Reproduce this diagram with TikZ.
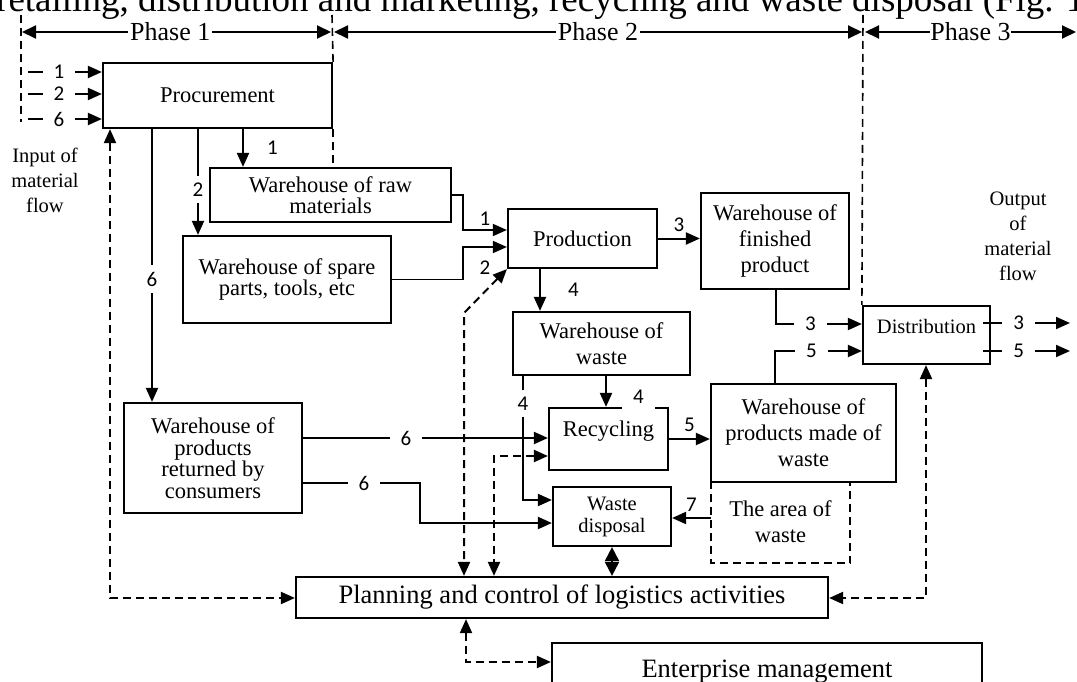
\documentclass[tikz,border=0pt]{standalone}
\usepackage{fontspec}
\setmainfont{Liberation Serif}
\newfontfamily\numfont{Carlito}
\usetikzlibrary{arrows.meta}
\usetikzlibrary{positioning}

\tikzset{
  box/.style={draw, line width=2.2pt, align=center, inner sep=0pt,
    font=\fontsize{22.5}{26}\selectfont},
  tightbox/.style={box, font=\fontsize{22.5}{21.5}\selectfont},
  smallbox/.style={box, font=\fontsize{20.5}{22}\selectfont},
  bigbox/.style={box, font=\fontsize{26.5}{30}\selectfont},
  flow/.style={-{Triangle[length=14pt,width=12pt]}, line width=2pt},
  thinflow/.style={flow, line width=1.6pt},
  ctrl/.style={{Triangle[length=14pt,width=12pt]}-{Triangle[length=14pt,width=12pt]},
    line width=2pt, dash pattern=on 8pt off 5pt},
  diam/.style={{Triangle[length=14pt,width=14pt]}-{Triangle[length=14pt,width=14pt]},
    line width=2pt},
  phasearrow/.style={{Triangle[length=14pt,width=13pt]}-{Triangle[length=14pt,width=13pt]},
    line width=2pt},
  border/.style={line width=1.6pt, dash pattern=on 8pt off 5pt},
  num/.style={font=\numfont\fontsize{21}{21}\selectfont, fill=white,
    inner xsep=11pt, inner ysep=7pt},
  numside/.style={font=\numfont\fontsize{21}{21}\selectfont, inner sep=1pt},
  phase/.style={font=\fontsize{26}{26}\selectfont, fill=white, inner sep=2pt},
  note/.style={align=center, font=\fontsize{20.5}{25}\selectfont},
}

\begin{document}
\begin{tikzpicture}[x=1pt, y=-1pt]
  \clip (0,0) rectangle (1077,682);

  \node[anchor=base west, inner sep=0pt, font=\fontsize{37}{37}\selectfont] (Caption)
    at (-4,12) {retailing, distribution and marketing, recycling and waste disposal (Fig. 1};

  % boxes
  \node[box, minimum width=229pt, minimum height=65pt] (Procurement) at (217.5,95.5) {Procurement};
  \node[tightbox, minimum width=241pt, minimum height=54pt] (RawStore) at (330.5,195) {Warehouse of raw\\materials};
  \node[tightbox, minimum width=208pt, minimum height=87pt] (SpareStore) at (287,279.5) {Warehouse of spare\\parts, tools, etc};
  \node[tightbox, minimum width=178pt, minimum height=110pt] (ReturnStore) at (213,458) {Warehouse of\\products\\returned by\\consumers};
  \node[box, minimum width=149pt, minimum height=59pt] (Production) at (582.5,238.5) {Production};
  \node[box, minimum width=148pt, minimum height=96pt] (FinishedStore) at (775,241) {Warehouse of\\finished\\product};
  \node[box, minimum width=177pt, minimum height=63pt] (WasteStore) at (601.5,343.5) {Warehouse of\\waste};
  \node[box, text depth=21pt, minimum width=119pt, minimum height=62pt] (Recycling) at (608.5,439) {Recycling};
  \node[smallbox, minimum width=118pt, minimum height=59pt] (Disposal) at (612,516.5) {Waste\\disposal};
  \node[box, minimum width=185pt, minimum height=98pt] (MadeStore) at (803.5,433) {Warehouse of\\products made of\\waste};
  \node[box, draw=none, minimum width=137pt, minimum height=80pt] (WasteArea) at (780.5,522) {The area of\\waste};
  \node[smallbox, text depth=18pt, minimum width=127pt, minimum height=58pt] (Distribution) at (926.5,335) {Distribution};
  \node[bigbox, minimum width=532pt, minimum height=41pt] (Planning) at (562,597.5) {Planning and control of logistics activities};
  \node[bigbox, minimum width=430pt, minimum height=57pt] (Management) at (767,671.5) {Enterprise management};
  \draw[border] (WasteArea.north west) -- (WasteArea.south west) -- (WasteArea.south east) -- (WasteArea.north east);

  \node[note] (InputText) at (45,180) {Input of\\material\\flow};
  \node[note] (OutputText) at (1018,236) {Output\\of\\material\\flow};

  % phases
  \coordinate (LineA) at (21,15);
  \coordinate (LineAEnd) at (21,122);
  \coordinate (LineB) at (332,15);
  \coordinate (LineC) at (863,15);
  \draw[border] (LineA) -- (LineAEnd);
  \draw[border] (LineB) -- (Procurement.north east);
  \draw[border] (Procurement.south east) -- (RawStore.north -| Procurement.east);
  \draw[border] (LineC) -- (Distribution.north west);

  \coordinate (PhaseA) at (22,32);
  \coordinate (PhaseB) at (331,32);
  \coordinate (PhaseC) at (334,32);
  \coordinate (PhaseD) at (862,32);
  \coordinate (PhaseE) at (865,32);
  \coordinate (PhaseF) at (1076,32);
  \draw[phasearrow] (PhaseA) -- node[phase, pos=0.48] {Phase 1} (PhaseB);
  \draw[phasearrow] (PhaseC) -- node[phase] {Phase 2} (PhaseD);
  \draw[phasearrow] (PhaseE) -- node[phase, inner sep=0pt] {Phase 3} (PhaseF);

  % input
  \foreach \n/\y in {1/72,2/94,6/119}{%
    \coordinate (In\n) at (28,\y);
    \draw[flow] (In\n) -- node[num, pos=0.42] {\n} (In\n -| Procurement.west);
  }

  % procurement feeds
  \coordinate (ColRaw) at (243,0);
  \coordinate (ColSpare) at (198,0);
  \coordinate (ColReturn) at (152,0);
  \draw[flow] (Procurement.south -| ColRaw) -- node[numside, right=22pt] {1} (RawStore.north -| ColRaw);
  \draw[flow] (Procurement.south -| ColSpare) -- node[num, inner xsep=5pt, pos=0.57] {2} (SpareStore.north -| ColSpare);
  \draw[flow] (Procurement.south -| ColReturn) -- node[num, pos=0.55] {6} (ReturnStore.north -| ColReturn);

  % production
  \coordinate (JoinRaw) at (463,230);
  \coordinate (JoinSpare) at (463,247);
  \draw[thinflow] (RawStore.east) -| (JoinRaw) -- node[numside, above=3pt] {1} (Production.west |- JoinRaw);
  \draw[thinflow] (SpareStore.east) -| (JoinSpare) -- node[numside, below=12pt] {2} (Production.west |- JoinSpare);
  \draw[flow] (Production.east) -- node[numside, above=5pt] {3} (Production.east -| FinishedStore.west);
  \coordinate (ColWaste) at (540,0);
  \draw[flow] (Production.south -| ColWaste) -- node[numside, right=26pt] {4} (WasteStore.north -| ColWaste);

  % distribution
  \coordinate (TurnFinished) at (776,324);
  \coordinate (TurnMade) at (775,351);
  \draw[flow] (FinishedStore.south -| TurnFinished) -- (TurnFinished) -- node[num, pos=0.4] {3} (Distribution.west |- TurnFinished);
  \draw[flow] (MadeStore.north -| TurnMade) -- (TurnMade) -- node[num, pos=0.42] {5} (Distribution.west |- TurnMade);
  \coordinate (OutA) at (1070,323);
  \coordinate (OutB) at (1070,351);
  \draw[flow] (Distribution.east |- OutA) ++(-8,0) -- node[num, pos=0.41] {3} (OutA);
  \draw[flow] (Distribution.east |- OutB) ++(-8,0) -- node[num, pos=0.41] {5} (OutB);

  % waste
  \coordinate (ColRecycle) at (606,0);
  \draw[flow] (WasteStore.south -| ColRecycle) -- node[num, right=15pt, yshift=-5pt] {4} (Recycling.north -| ColRecycle);
  \coordinate (TurnWaste) at (523,500);
  \draw[flow] (WasteStore.south -| TurnWaste) -- node[num, pos=0.22] {4} (TurnWaste) -- (Disposal.west |- TurnWaste);
  \coordinate (RowReturn) at (302,438);
  \draw[flow] (ReturnStore.east |- RowReturn) -- node[num, pos=0.42] {6} (Recycling.west |- RowReturn);
  \coordinate (TurnReturnA) at (420,483);
  \coordinate (TurnReturnB) at (420,523);
  \draw[flow] (ReturnStore.east |- TurnReturnA) -- node[num, pos=0.52] {6} (TurnReturnA) -- (TurnReturnB) -- (Disposal.west |- TurnReturnB);
  \draw[flow] (Recycling.east) -- node[numside, above=5pt] {5} (Recycling.east -| MadeStore.west);
  \coordinate (RowArea) at (712,518);
  \draw[flow] (WasteArea.west |- RowArea) -- node[numside, above=5pt] {7} (Disposal.east |- RowArea);
  \draw[diam] (Disposal.south) -- (Disposal.south |- Planning.north);

  % control
  \coordinate (BendProd) at (464,313);
  \coordinate (BendRecycle) at (494,456);
  \coordinate (BendLeft) at (110,598);
  \coordinate (BendRight) at (926,598);
  \coordinate (BendDown) at (466,662);
  \draw[ctrl] (Production.south west) -- (BendProd) -- (BendProd |- Planning.north);
  \draw[ctrl] (Recycling.west |- BendRecycle) -- (BendRecycle) -- (BendRecycle |- Planning.north);
  \draw[ctrl] (Procurement.south -| BendLeft) -- (BendLeft) -- (Planning.west |- BendLeft);
  \draw[ctrl] (Distribution.south -| BendRight) -- (BendRight) -- (Planning.east |- BendRight);
  \draw[ctrl] (Planning.south -| BendDown) -- (BendDown) -- (Management.west |- BendDown);
\end{tikzpicture}
\end{document}
